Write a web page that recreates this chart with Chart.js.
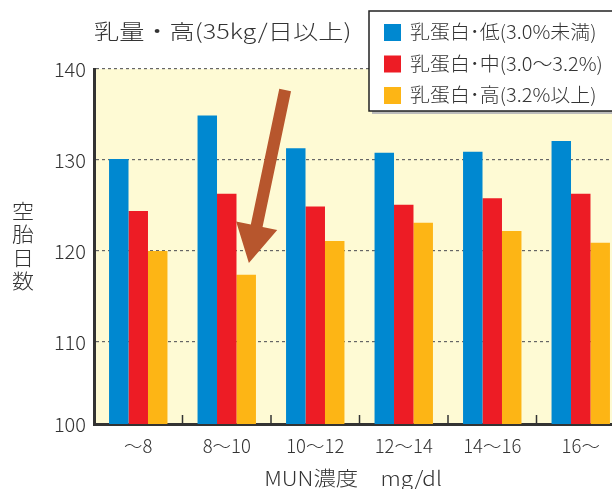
<!DOCTYPE html>
<html>
<head>
<meta charset="utf-8">
<script src="https://cdn.jsdelivr.net/npm/chart.js@4"></script>
<style>
  html, body { margin: 0; padding: 0; background: #fff; overflow: hidden; }
  #wrap { width: 640px; height: 489px; }
</style>
</head>
<body>
<div id="wrap"><canvas id="grafico" width="640" height="489"></canvas></div>
<script>
// MUN濃度別の空胎日数（乳量・高）
const categorias = ['～8', '8～10', '10～12', '12～14', '14～16', '16～'];
const protBaixa = [130.1, 134.9, 131.3, 130.8, 130.9, 132.1];   // 乳蛋白・低
const protMedia = [124.4, 126.3, 124.9, 125.1, 125.8, 126.3];   // 乳蛋白・中
const protAlta  = [120.0, 117.4, 121.1, 123.1, 122.2, 120.9];   // 乳蛋白・高
const yTicks = [101, 110, 120, 130, 140];
const yTickLabels = ['100', '110', '120', '130', '140'];
// seta: categoria (índice) e valor, cauda -> ponta
const setaDe = [1.66, 137.7];
const setaAte = [1.25, 118.7];

const FONTE = '"Noto Sans CJK JP", "Noto Sans", sans-serif';
const TXT = '#333';

// texto com leve alargamento horizontal
function texto(ctx, str, x, y, size, sx, align) {
    ctx.save();
    ctx.font = '300 ' + size + 'px ' + FONTE;
    ctx.textAlign = align || 'left';
    ctx.textBaseline = 'middle';
    ctx.fillStyle = TXT;
    ctx.translate(x, y);
    ctx.scale(sx, 1);
    ctx.fillText(str, 0, 0);
    ctx.restore();
}

const fundoPlot = {
    id: 'fundoPlot',
    beforeDraw(chart) {
        const { ctx, chartArea: a } = chart;
        ctx.save();
        ctx.fillStyle = '#fefad4';
        ctx.fillRect(a.left, a.top, a.right - a.left, a.bottom - a.top);
        ctx.restore();
    }
};

const extras = {
    id: 'extras',
    afterDatasetsDraw(chart) {
        const { ctx, chartArea: a } = chart;
        const x = chart.scales.x, y = chart.scales.y;

        // marcas entre as categorias, para dentro do gráfico
        ctx.save();
        ctx.strokeStyle = '#333';
        ctx.lineWidth = 1.5;
        for (let i = 0; i < categorias.length - 1; i++) {
            const px = (x.getPixelForValue(i) + x.getPixelForValue(i + 1)) / 2;
            ctx.beginPath();
            ctx.moveTo(px, a.bottom);
            ctx.lineTo(px, a.bottom - 9);
            ctx.stroke();
        }
        ctx.restore();

        // seta
        const x0 = x.getPixelForValue(setaDe[0]), y0 = y.getPixelForValue(setaDe[1]);
        const x1 = x.getPixelForValue(setaAte[0]), y1 = y.getPixelForValue(setaAte[1]);
        const ang = Math.atan2(y1 - y0, x1 - x0);
        const len = Math.hypot(x1 - x0, y1 - y0);
        const cabeca = 38, meiaCab = 21, meiaHaste = 6;
        ctx.save();
        ctx.translate(x0, y0);
        ctx.rotate(ang);
        ctx.fillStyle = '#b7562d';
        ctx.beginPath();
        ctx.moveTo(0, -meiaHaste);
        ctx.lineTo(len - cabeca, -meiaHaste);
        ctx.lineTo(len - cabeca, -meiaCab);
        ctx.lineTo(len, 0);
        ctx.lineTo(len - cabeca, meiaCab);
        ctx.lineTo(len - cabeca, meiaHaste);
        ctx.lineTo(0, meiaHaste);
        ctx.closePath();
        ctx.fill();
        ctx.restore();
    },
    afterDraw(chart) {
        const { ctx, chartArea: a } = chart;

        // título
        texto(ctx, '乳量・高(35kg/日以上)', a.left, 31, 21, 1.2);

        // título do eixo Y, caracteres empilhados
        '空胎日数'.split('').forEach((c, i) => texto(ctx, c, 23, 211 + i * 23.5, 20, 1.1, 'center'));

        // título do eixo X
        texto(ctx, 'MUN濃度　mg/dl', 353, 478, 20, 1.12, 'center');

        // legenda
        const lx = 369, ly = 11, lh = 100;
        ctx.save();
        ctx.fillStyle = '#bbb';
        ctx.fillRect(lx + 3, ly + 3, 640, lh);
        ctx.fillStyle = '#fff';
        ctx.fillRect(lx, ly, 640, lh);
        ctx.strokeStyle = '#222';
        ctx.lineWidth = 1.5;
        ctx.strokeRect(lx, ly, 640, lh);
        ctx.restore();
        chart.data.datasets.forEach((ds, i) => {
            const cy = ly + 21 + i * 31.5;
            ctx.fillStyle = ds.backgroundColor;
            ctx.fillRect(384, cy - 8, 17, 17);
            texto(ctx, ds.label, 410, cy, 19, 1.05);
        });
    }
};

new Chart(document.getElementById('grafico'), {
    type: 'bar',
    data: {
        labels: categorias,
        datasets: [
            { label: '乳蛋白･低(3.0%未満)', data: protBaixa, backgroundColor: '#0088d0' },
            { label: '乳蛋白･中(3.0～3.2%)', data: protMedia, backgroundColor: '#ed1c25' },
            { label: '乳蛋白･高(3.2%以上)', data: protAlta, backgroundColor: '#fdb515' }
        ]
    },
    options: {
        responsive: false,
        animation: false,
        layout: { padding: { top: 69, right: 15, left: 0, bottom: 0 } },
        datasets: { bar: { categoryPercentage: 0.66, barPercentage: 1.0, borderWidth: 0 } },
        plugins: { legend: { display: false }, tooltip: { enabled: false } },
        scales: {
            x: {
                grid: { display: false, drawTicks: false },
                border: { display: true, color: '#333', width: 3 },
                ticks: { color: TXT, font: { family: FONTE, size: 18.5, weight: 300 }, padding: 11 },
                afterFit: s => { s.height = 65; }
            },
            y: {
                min: 101,
                max: 140,
                afterBuildTicks: s => { s.ticks = yTicks.map(v => ({ value: v })); },
                grid: {
                    drawTicks: false,
                    color: c => c.tick.value === yTicks[0] ? 'rgba(0,0,0,0)' : '#666',
                    lineWidth: 1.2
                },
                border: { display: true, color: '#333', width: 3, dash: [3, 3] },
                ticks: {
                    color: TXT,
                    font: { family: FONTE, size: 20, weight: 300 },
                    padding: 8,
                    callback: (v, i) => yTickLabels[i]
                },
                afterFit: s => { s.width = 94; }
            }
        }
    },
    plugins: [fundoPlot, extras]
});
</script>
</body>
</html>
